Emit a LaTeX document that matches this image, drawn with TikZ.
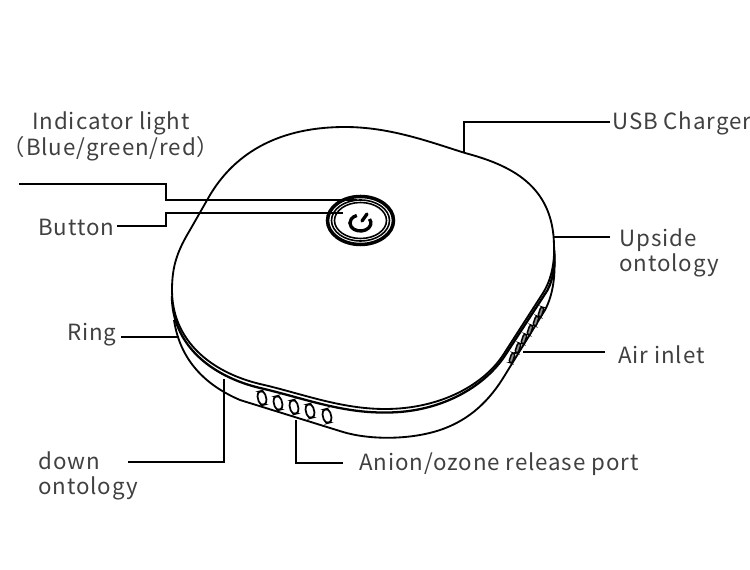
\documentclass[tikz,border=0pt]{standalone}
\usepackage{fontspec}
\setmainfont{Noto Sans CJK SC}
\begin{document}
\begin{tikzpicture}[x=0.02cm,y=-0.02cm,
	lbl/.style={text=black!75, font=\fontsize{12.7}{14.2}\selectfont\addfontfeatures{LetterSpace=4}, inner sep=0pt, align=left},
	ln/.style={line width=0.75pt, black},
	body/.style={line width=1.05pt, black, fill=white},
	slot/.style={rectangle, draw=black, line width=1pt, rounded corners=2.6pt, fill=white, minimum width=0.16cm, minimum height=0.28cm, inner sep=0pt}]

	\useasboundingbox (0,0) rectangle (750,570);

	% lower housing
	\draw[body] (174,320) .. controls (180,360) and (205,385) .. (240,400) -- (343,432)
		.. controls (370,440) and (410,440) .. (440,430) .. controls (470,420) and (490,400) .. (505,375)
		-- (545,310) .. controls (553,295) and (556,275) .. (554,250);
	% ring
	\draw[body, line width=1.3pt] (172,296) .. controls (172,344) and (210,376) .. (260,388)
		.. controls (300,397) and (340,413) .. (385,412.5) .. controls (440,413) and (485,387) .. (506,354)
		-- (545,294) .. controls (552,285) and (556,265) .. (554,250);
	% upside ontology
	\draw[body] (172,290) .. controls (172,265) and (178,250) .. (190,230) -- (210,195)
		.. controls (240,145) and (290,127) .. (345,127) .. controls (390,127) and (430,142) .. (465,153)
		.. controls (510,165) and (553,185) .. (554,245) .. controls (555,265) and (550,282) .. (543,293)
		-- (505,352) .. controls (485,385) and (440,409) .. (385,409) .. controls (340,409) and (300,393) .. (260,384)
		.. controls (210,372) and (172,340) .. (172,290) -- cycle;

	% slots
	\foreach \px/\py in {262/398, 278/403, 294/407, 310/411, 327/416}
		\node[slot, rotate=14] at (\px,\py) {};
	\foreach \px/\py in {512/358, 518/348, 524/339, 530/330, 536/321, 541/312}
		\node[slot, rotate=-18, minimum width=0.07cm, minimum height=0.2cm, rounded corners=1.2pt, line width=0.85pt, fill=black!45] at (\px,\py) {};

	% button
	\draw[line width=2pt] (360.5,220.5) ellipse (33 and 24);
	\draw[line width=0.9pt] (360.5,220.5) ellipse (29 and 20.5);
	\draw[line width=0.9pt] (360.5,220.5) ellipse (26 and 18);
	\draw[line width=1.9pt] (369.5,219) arc[start angle=-30, end angle=250, x radius=10.5, y radius=8];
	\draw[line width=1.9pt, line cap=round] (362,221) -- (367,214);

	% labels
	\node[lbl] (indicator) at (111,123.5) {Indicator light};
	\node[lbl] (color) at (111,148.5) {（Blue/green/red）};
	\node[lbl, anchor=west] (button) at (38,227.5) {Button};
	\node[lbl, anchor=west] (ring) at (67,335) {Ring};
	\node[lbl, anchor=west] (down) at (38,476) {down\\ontology};
	\node[lbl, anchor=west] (anion) at (359,464.5) {Anion/ozone release port};
	\node[lbl, anchor=west] (inlet) at (618,355) {Air inlet};
	\node[lbl, anchor=west] (upside) at (619,253) {Upside\\ontology};
	\node[lbl, anchor=west] (usb) at (612,123.5) {USB Charger};

	\coordinate (lightfree) at (19,184);
	\coordinate (lightend) at (357,200);
	\coordinate (buttonfree) at (117,226);
	\coordinate (buttonend) at (343,213);
	\coordinate (usbfree) at (610,122);
	\coordinate (usbend) at (464,153);
	\coordinate (upsidefree) at (610,237);
	\coordinate (upsideend) at (553,237);
	\coordinate (inletfree) at (605,352);
	\coordinate (inletend) at (523,352);
	\coordinate (anionfree) at (343,463);
	\coordinate (anionend) at (296,420);
	\coordinate (downfree) at (128,462);
	\coordinate (downend) at (224,379);
	\coordinate (ringfree) at (121,337);
	\coordinate (ringend) at (179,337);

	\draw[ln] (lightfree) -- (166,184) -- (166,200) -- (lightend);
	\draw[ln] (buttonfree) -- (166,226) -- (166,213) -- (buttonend);
	\draw[ln] (usbfree) -- (464,122) -- (usbend);
	\draw[ln] (upsidefree) -- (upsideend);
	\draw[ln] (inletfree) -- (inletend);
	\draw[ln] (anionfree) -- (296,463) -- (anionend);
	\draw[ln] (downfree) -- (224,462) -- (downend);
	\draw[ln] (ringfree) -- (ringend);
\end{tikzpicture}
\end{document}
